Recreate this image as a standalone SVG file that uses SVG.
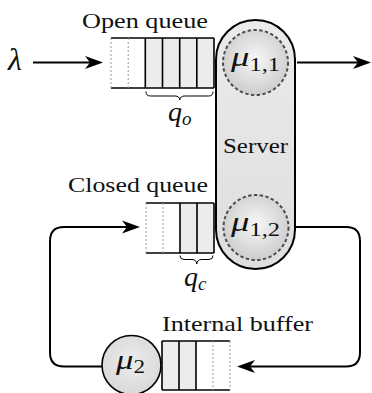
<svg xmlns="http://www.w3.org/2000/svg" width="372" height="393" viewBox="0 0 372 393">
  <style>
    .lbl { font-family: "Liberation Serif", "Times New Roman", serif; font-size: 21px; fill: #111; }
    .math { font-family: "Liberation Serif", "Times New Roman", serif; font-style: italic; fill: #111; }
    .edge { fill: none; stroke: #000; stroke-width: 2; }
    .solid { stroke: #000; stroke-width: 1.6; fill: none; }
    .dot { stroke: #9a9a9a; stroke-width: 1; stroke-dasharray: 2 2; fill: none; }
    .cell { fill: #ececec; stroke: none; }
    .brace { fill: none; stroke: #000; stroke-width: 1; }
    .slot { fill: url(#ball); stroke: #4d4d4d; stroke-width: 2; stroke-dasharray: 3.4 2.4; }
  </style>
  <defs>
    <marker id="stealth" viewBox="-19 -8 20 16" refX="-13" refY="0" markerWidth="20" markerHeight="16" markerUnits="userSpaceOnUse" orient="auto">
      <path d="M0,0 L-18,-6.5 L-13,0 L-18,6.5 Z" fill="#000"/>
    </marker>
    <linearGradient id="serverFill" x1="0" y1="0" x2="0" y2="1">
      <stop offset="0" stop-color="#ebebeb"/>
      <stop offset="1" stop-color="#dedede"/>
    </linearGradient>
    <radialGradient id="ball" cx="0.5" cy="0.45" r="0.55">
      <stop offset="0" stop-color="#f7f7f7"/>
      <stop offset="1" stop-color="#cdcdcd"/>
    </radialGradient>
    <radialGradient id="ball2" cx="0.5" cy="0.45" r="0.55">
      <stop offset="0" stop-color="#ececec"/>
      <stop offset="1" stop-color="#d9d9d9"/>
    </radialGradient>
  </defs>

  <!-- arrival rate -->
  <g id="arrival">
    <text class="math" x="8" y="70" font-size="32">λ</text>
  </g>

  <!-- open queue: two empty slots, four occupied -->
  <g id="open-queue">
    <text class="lbl" x="82" y="28" textLength="126" lengthAdjust="spacingAndGlyphs">Open queue</text>
    <rect class="cell" x="145.3" y="38" width="68.7" height="50"/>
    <line class="solid" x1="111" y1="38" x2="214" y2="38"/>
    <line class="solid" x1="111" y1="88" x2="214" y2="88"/>
    <line class="dot" x1="111" y1="38" x2="111" y2="88"/>
    <line class="dot" x1="128.2" y1="38" x2="128.2" y2="88"/>
    <line class="solid" x1="145.3" y1="38" x2="145.3" y2="88"/>
    <line class="solid" x1="162.5" y1="38" x2="162.5" y2="88"/>
    <line class="solid" x1="179.7" y1="38" x2="179.7" y2="88"/>
    <line class="solid" x1="196.8" y1="38" x2="196.8" y2="88"/>
    <line class="solid" x1="214" y1="38" x2="214" y2="88"/>
    <path class="brace" d="M146,91.5 q0,4.5 4.5,4.5 H175 q4.5,0 4.8,4 q0.3,-4 4.8,-4 H208.5 q4.5,0 4.5,-4.5"/>
    <text class="math" x="168" y="121" font-size="28">q<tspan font-size="19" dy="4">o</tspan></text>
  </g>

  <!-- server with two service slots -->
  <g id="server">
    <rect x="216" y="20" width="79" height="249" rx="39.5" fill="url(#serverFill)" stroke="#000" stroke-width="2"/>
    <circle class="slot" cx="255.5" cy="62.5" r="32.5"/>
    <text class="math" x="231" y="66" font-size="27" textLength="49" lengthAdjust="spacingAndGlyphs">μ<tspan font-style="normal" font-size="18" dy="4.5">1,1</tspan></text>
    <text class="lbl" x="223" y="153" textLength="65" lengthAdjust="spacingAndGlyphs">Server</text>
    <circle class="slot" cx="256" cy="227.5" r="32.5"/>
    <text class="math" x="231" y="231" font-size="27" textLength="49" lengthAdjust="spacingAndGlyphs">μ<tspan font-style="normal" font-size="18" dy="4.5">1,2</tspan></text>
  </g>

  <!-- closed queue: two empty slots, two occupied -->
  <g id="closed-queue">
    <text class="lbl" x="68" y="192" textLength="140" lengthAdjust="spacingAndGlyphs">Closed queue</text>
    <rect class="cell" x="180" y="203" width="34" height="50"/>
    <line class="solid" x1="146" y1="203" x2="214" y2="203"/>
    <line class="solid" x1="146" y1="253" x2="214" y2="253"/>
    <line class="dot" x1="146" y1="203" x2="146" y2="253"/>
    <line class="dot" x1="163" y1="203" x2="163" y2="253"/>
    <line class="solid" x1="180" y1="203" x2="180" y2="253"/>
    <line class="solid" x1="197" y1="203" x2="197" y2="253"/>
    <line class="solid" x1="214" y1="203" x2="214" y2="253"/>
    <path class="brace" d="M180,255.5 q0,4 4,4 H192 q4.5,0 4.8,4.5 q0.3,-4.5 4.8,-4.5 H209 q4,0 4,-4"/>
    <text class="math" x="184" y="286" font-size="28">q<tspan font-size="19" dy="4">c</tspan></text>
  </g>

  <!-- internal buffer: two occupied, two empty -->
  <g id="internal-buffer">
    <text class="lbl" x="162" y="331" textLength="151" lengthAdjust="spacingAndGlyphs">Internal buffer</text>
    <rect class="cell" x="162" y="341" width="34" height="49"/>
    <line class="solid" x1="162" y1="341" x2="230" y2="341"/>
    <line class="solid" x1="162" y1="390" x2="230" y2="390"/>
    <line class="solid" x1="162" y1="341" x2="162" y2="390"/>
    <line class="solid" x1="179" y1="341" x2="179" y2="390"/>
    <line class="solid" x1="196" y1="341" x2="196" y2="390"/>
    <line class="dot" x1="213" y1="341" x2="213" y2="390"/>
    <line class="dot" x1="230" y1="341" x2="230" y2="390"/>
  </g>

  <!-- internal station -->
  <g id="station-2">
    <circle cx="131.5" cy="365" r="29.5" fill="url(#ball2)" stroke="#000" stroke-width="1.6"/>
    <text class="math" x="116" y="369" font-size="27" textLength="29" lengthAdjust="spacingAndGlyphs">μ<tspan font-style="normal" font-size="18" dy="4">2</tspan></text>
  </g>

  <!-- connectors -->
  <g id="connectors">
    <path class="edge" d="M33,62.5 H90" marker-end="url(#stealth)"/>
    <path class="edge" d="M297,62.5 H358" marker-end="url(#stealth)"/>
    <path class="edge" d="M102,366.5 H64 Q50,366.5 50,352.5 V241 Q50,227 64,227 H127" marker-end="url(#stealth)"/>
    <path class="edge" d="M296,227 H346 Q360,227 360,241 V352.5 Q360,366.5 346,366.5 H250" marker-end="url(#stealth)"/>
  </g>
</svg>
